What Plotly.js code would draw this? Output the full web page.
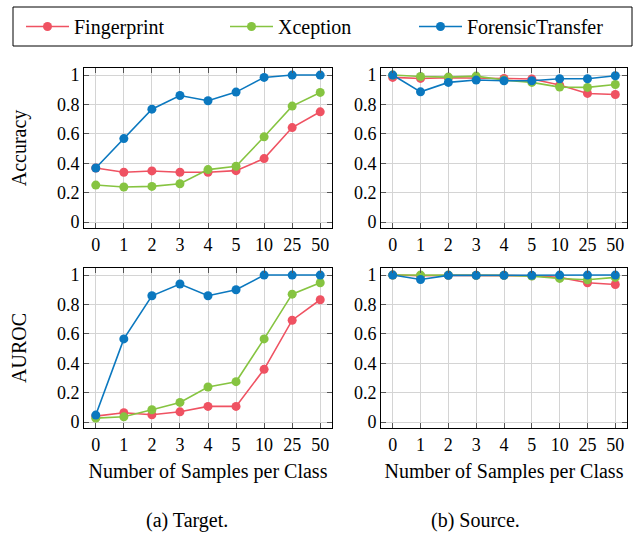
<!DOCTYPE html>
<html>
<head>
<meta charset="utf-8">
<script src="https://cdn.plot.ly/plotly-3.0.1.min.js"></script>
<style>html,body{margin:0;padding:0;background:#fff;}#chart{width:639px;height:536px;}</style>
</head>
<body>
<div id="chart"></div>
<script>
const samples = ["0", "1", "2", "3", "4", "5", "10", "25", "50"];
const seriesNames = ["Fingerprint", "Xception", "ForensicTransfer"];
const seriesColors = ["#ef5262", "#86c441", "#0b78bf"];

// Accuracy, target
const accTargetFingerprint = [0.368, 0.339, 0.348, 0.339, 0.339, 0.350, 0.432, 0.643, 0.750];
const accTargetXception    = [0.252, 0.239, 0.243, 0.261, 0.357, 0.380, 0.580, 0.789, 0.882];
const accTargetForensic    = [0.368, 0.568, 0.768, 0.861, 0.825, 0.884, 0.984, 1.000, 1.000];
// Accuracy, source
const accSourceFingerprint = [0.984, 0.977, 0.982, 0.982, 0.977, 0.973, 0.932, 0.875, 0.868];
const accSourceXception    = [1.000, 0.990, 0.986, 0.993, 0.966, 0.950, 0.918, 0.916, 0.936];
const accSourceForensic    = [1.000, 0.886, 0.950, 0.966, 0.961, 0.961, 0.975, 0.975, 0.995];
// AUROC, target
const aucTargetFingerprint = [0.041, 0.064, 0.050, 0.070, 0.107, 0.107, 0.359, 0.693, 0.832];
const aucTargetXception    = [0.027, 0.036, 0.084, 0.134, 0.239, 0.275, 0.566, 0.870, 0.948];
const aucTargetForensic    = [0.048, 0.566, 0.859, 0.939, 0.859, 0.900, 1.000, 1.000, 1.000];
// AUROC, source
const aucSourceFingerprint = [1.000, 0.995, 0.998, 0.998, 0.998, 0.995, 0.984, 0.948, 0.936];
const aucSourceXception    = [1.000, 1.000, 1.000, 0.998, 0.998, 0.993, 0.977, 0.968, 0.984];
const aucSourceForensic    = [1.000, 0.970, 0.998, 0.998, 0.998, 0.998, 1.000, 1.000, 1.000];

const yTicks = [0, 0.2, 0.4, 0.6, 0.8, 1];
const yTickText = ["0", "0.2", "0.4", "0.6", "0.8", "1"];

const panels = [
  {xa: "x", ya: "y", data: [accTargetFingerprint, accTargetXception, accTargetForensic], legend: true},
  {xa: "x2", ya: "y2", data: [accSourceFingerprint, accSourceXception, accSourceForensic]},
  {xa: "x3", ya: "y3", data: [aucTargetFingerprint, aucTargetXception, aucTargetForensic]},
  {xa: "x4", ya: "y4", data: [aucSourceFingerprint, aucSourceXception, aucSourceForensic]}
];
const legendIds = ["legend", "legend2", "legend3"];

const traces = [];
panels.forEach(p => {
  p.data.forEach((vals, i) => {
    traces.push({
      type: "scatter", mode: "lines+markers",
      x: samples, y: vals, xaxis: p.xa, yaxis: p.ya,
      name: seriesNames[i],
      line: {color: seriesColors[i], width: 1.6},
      marker: {color: seriesColors[i], size: 9},
      showlegend: !!p.legend,
      legend: legendIds[i]
    });
  });
});

const W = 639, H = 536;
const fx = v => v / W, fy = v => 1 - v / H;
const serif = "Liberation Serif";

function xAxis(d0, d1, anchor, withTitle) {
  return {
    domain: [fx(d0), fx(d1)], anchor: anchor, type: "category",
    range: [-0.42, 8.42], showgrid: true, gridcolor: "#d4d4d4", gridwidth: 1,
    showline: true, linecolor: "#000", linewidth: 1, mirror: "ticks",
    ticks: "inside", ticklen: 5, tickcolor: "#555", tickwidth: 1,
    tickfont: {family: serif, size: 18, color: "#000"},
    zeroline: false, fixedrange: true,
    title: withTitle ? {text: "Number of Samples per Class", font: {family: serif, size: 20, color: "#000"}, standoff: 10} : {text: ""}
  };
}
function yAxis(d0, d1, anchor, title) {
  return {
    domain: [fy(d1), fy(d0)], anchor: anchor,
    range: [-0.04, 1.048], tickvals: yTicks, ticktext: yTickText,
    showgrid: true, gridcolor: "#d4d4d4", gridwidth: 1,
    showline: true, linecolor: "#000", linewidth: 1, mirror: "ticks",
    ticks: "inside", ticklen: 5, tickcolor: "#555", tickwidth: 1,
    tickfont: {family: serif, size: 18, color: "#000"},
    zeroline: false, fixedrange: true,
    title: title ? {text: title, font: {family: serif, size: 20, color: "#000"}, standoff: 24} : {text: ""}
  };
}

function legendAt(px) {
  return {
    x: fx(px), xanchor: "left", y: fy(26.5), yanchor: "middle",
    orientation: "h", bgcolor: "rgba(0,0,0,0)", borderwidth: 0,
    font: {family: serif, size: 20, color: "#000"}, itemwidth: 43
  };
}

const layout = {
  width: W, height: H,
  margin: {l: 0, r: 0, t: 0, b: 0},
  paper_bgcolor: "#fff", plot_bgcolor: "#fff",
  showlegend: true,
  xaxis: xAxis(84, 332, "y", false),
  yaxis: yAxis(68, 228, "x", "Accuracy"),
  xaxis2: xAxis(381, 627, "y2", false),
  yaxis2: yAxis(68, 228, "x2", null),
  xaxis3: xAxis(84, 332, "y3", true),
  yaxis3: yAxis(268, 428, "x3", "AUROC"),
  xaxis4: xAxis(381, 627, "y4", true),
  yaxis4: yAxis(268, 428, "x4", null),
  legend: legendAt(21),
  legend2: legendAt(225),
  legend3: legendAt(414),
  shapes: [{type: "rect", xref: "paper", yref: "paper",
    x0: fx(13), x1: fx(632), y0: fy(46), y1: fy(7),
    line: {color: "#000", width: 1}, fillcolor: "rgba(0,0,0,0)"}],
  annotations: [
    {text: "(a) Target.", xref: "paper", yref: "paper", x: fx(187), y: fy(520), showarrow: false,
     xanchor: "center", yanchor: "middle", font: {family: serif, size: 20, color: "#000"}},
    {text: "(b) Source.", xref: "paper", yref: "paper", x: fx(475), y: fy(520), showarrow: false,
     xanchor: "center", yanchor: "middle", font: {family: serif, size: 20, color: "#000"}}
  ]
};

Plotly.newPlot("chart", traces, layout, {staticPlot: true, displayModeBar: false});
</script>
</body>
</html>
